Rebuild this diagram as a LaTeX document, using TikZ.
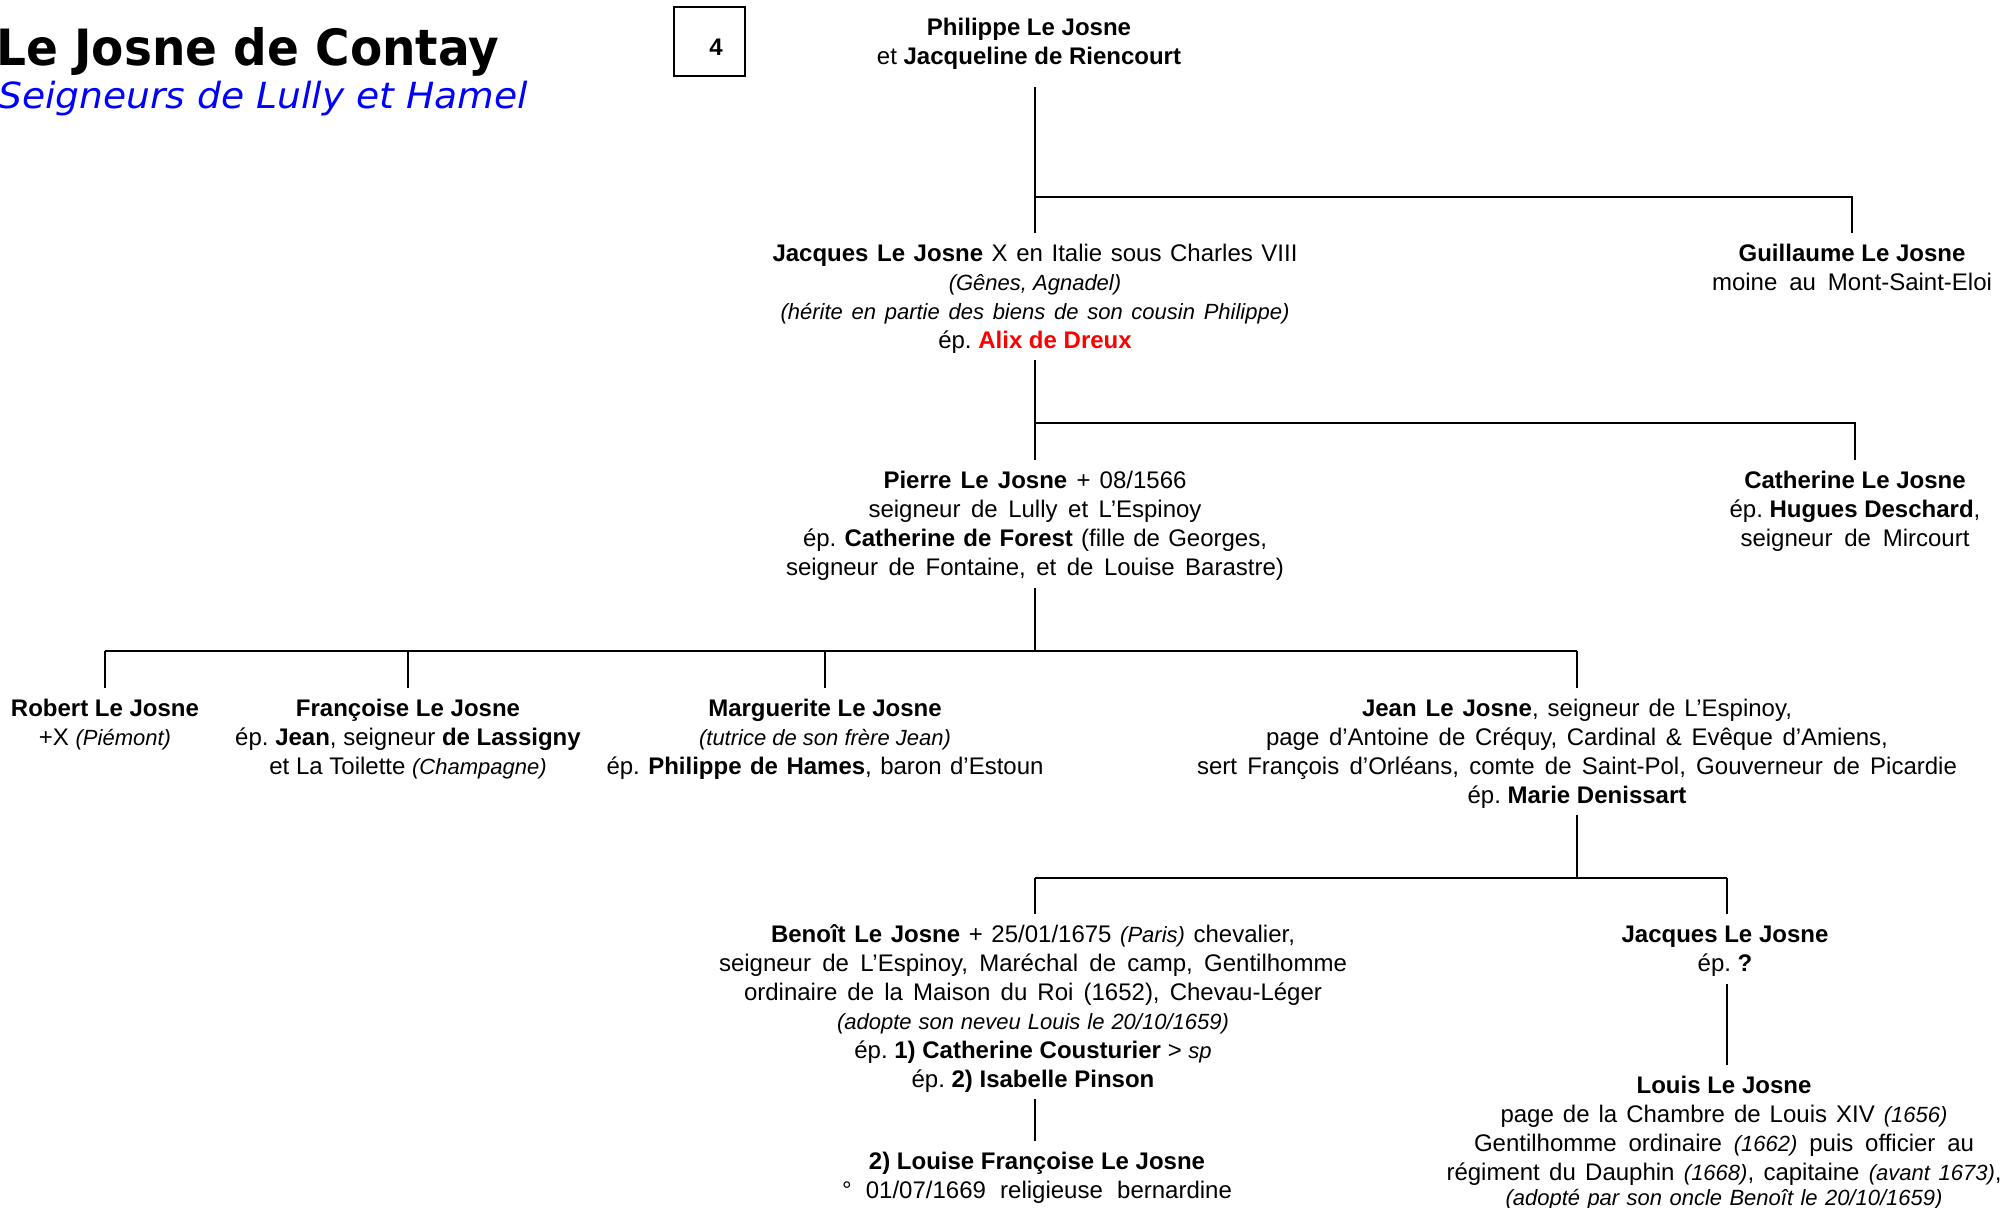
\documentclass[tikz,border=0pt]{standalone}
\usepackage{fontspec}
\setmainfont{Liberation Sans}
\newfontfamily\titlefont{DejaVu Sans}
\definecolor{pureblue}{RGB}{0,0,255}
\definecolor{purered}{RGB}{255,0,0}
\newcommand\smallit[1]{{\fontsize{22bp}{29bp}\selectfont\itshape #1}}
\newcommand\wline[2]{\makebox[#1bp][s]{#2}}
\frenchspacing
\begin{document}
\begin{tikzpicture}[x=1bp,y=-1bp,
  person/.style={align=center, inner sep=0pt, anchor=north, font=\fontsize{24bp}{29bp}\selectfont\frenchspacing},
  link/.style={line width=2.8bp, shorten <=4bp, shorten >=8bp},
  bar/.style={line width=2.8bp}]
\fill[white] (0,0) rectangle (2003,1207);
\useasboundingbox (0,0) rectangle (2003,1207);

% title
\node[anchor=base west, inner sep=0pt, font=\titlefont\bfseries\fontsize{50bp}{60bp}\selectfont] (title) at (-4,65) {\scalebox{0.94}[1]{Le Josne de Contay}};
\node[anchor=base west, inner sep=0pt, text=pureblue, font=\titlefont\itshape\fontsize{36bp}{44bp}\selectfont] (subtitle) at (-2,108) {\scalebox{1.045}[1]{Seigneurs de Lully et Hamel}};
\node[draw, line width=1.3bp, minimum width=71bp, minimum height=69bp, inner sep=0pt] (box) at (709.5,41.5) {};
\node[inner sep=0pt, font=\fontsize{24bp}{29bp}\selectfont\bfseries] (num) at (716,47) {4};

% persons
\node[person] (philippe) at (1029,15) {\strut\textbf{Philippe Le Josne}\\et \textbf{Jacqueline de Riencourt}\strut};
\node[person] (jacques) at (1035,241) {\strut\wline{525}{\textbf{Jacques Le Josne} X en Italie sous Charles VIII}\\\smallit{(Gênes, Agnadel)}\\\wline{509}{\smallit{(hérite en partie des biens de son cousin Philippe)}}\\ép. \textcolor{purered}{\textbf{Alix de Dreux}}\strut};
\node[person] (guillaume) at (1852,241) {\strut\textbf{Guillaume Le Josne}\\\wline{280}{moine au Mont-Saint-Eloi}\strut};
\node[person] (pierre) at (1035,468) {\strut\wline{303}{\textbf{Pierre Le Josne} + 08/1566}\\\wline{333}{seigneur de Lully et L’Espinoy}\\\wline{464}{ép. \textbf{Catherine de Forest} (fille de Georges,}\\\wline{498}{seigneur de Fontaine, et de Louise Barastre)}\strut};
\node[person] (catherine) at (1855,468) {\strut\textbf{Catherine Le Josne}\\ép. \textbf{Hugues Deschard},\\\wline{229}{seigneur de Mircourt}\strut};
\node[person] (robert) at (105,696) {\strut\textbf{Robert Le Josne}\\+X \smallit{(Piémont)}\strut};
\node[person] (francoise) at (408,696) {\strut\textbf{Françoise Le Josne}\\ép. \textbf{Jean}, seigneur \textbf{de Lassigny}\\et La Toilette \smallit{(Champagne)}\strut};
\node[person] (marguerite) at (825,696) {\strut\textbf{Marguerite Le Josne}\\\smallit{(tutrice de son frère Jean)}\\\wline{437}{ép. \textbf{Philippe de Hames}, baron d’Estoun}\strut};
\node[person] (jean) at (1577,696) {\strut\wline{430}{\textbf{Jean Le Josne}, seigneur de L’Espinoy,}\\\wline{622}{page d’Antoine de Créquy, Cardinal \& Evêque d’Amiens,}\\\wline{760}{sert François d’Orléans, comte de Saint-Pol, Gouverneur de Picardie}\\ép. \textbf{Marie Denissart}\strut};
\node[person] (benoit) at (1033,922) {\strut\wline{524}{\textbf{Benoît Le Josne} + 25/01/1675 \smallit{(Paris)} chevalier,}\\\wline{628}{seigneur de L’Espinoy, Maréchal de camp, Gentilhomme}\\\wline{578}{ordinaire de la Maison du Roi (1652), Chevau-Léger}\\\wline{392}{\smallit{(adopte son neveu Louis le 20/10/1659)}}\\ép. \textbf{1) Catherine Cousturier} > \smallit{sp}\\ép. \textbf{2) Isabelle Pinson}\strut};
\node[person] (jacques2) at (1725,922) {\strut\textbf{Jacques Le Josne}\\ép. \textbf{?}\strut};
\node[person] (louise) at (1037,1149) {\strut\textbf{2) Louise Françoise Le Josne}\\\wline{390}{° 01/07/1669 religieuse bernardine}\strut};
\node[person] (louis) at (1724,1073) {\strut\textbf{Louis Le Josne}\\\wline{447}{page de la Chambre de Louis XIV \smallit{(1656)}}\\\wline{500}{Gentilhomme ordinaire \smallit{(1662)} puis officier au}\\\wline{555}{régiment du Dauphin \smallit{(1668)}, capitaine \smallit{(avant 1673)},}\\[-4bp]\wline{437}{\smallit{(adopté par son oncle Benoît le 20/10/1659)}}\strut};

% bar levels and trunk lines
\coordinate (y1) at (0,197);
\coordinate (y2) at (0,423);
\coordinate (y3) at (0,651);
\coordinate (y4) at (0,878);
\coordinate (xb) at (1035,0);
\coordinate (xj) at (1727,0);

% connectors
\draw[link, shorten <=14bp] (philippe.south -| jacques.north) -- (jacques.north);
\draw[link, shorten <=0bp] (jacques.north |- y1) -| (guillaume.north);

\draw[link, shorten <=3bp] (jacques.south) -- (pierre.north);
\draw[link, shorten <=0bp] (pierre.north |- y2) -| (catherine.north);

\draw[bar, shorten <=4bp] (pierre.south) -- (pierre.south |- y3);
\draw[bar] (robert.north |- y3) -- (jean.north |- y3);
\foreach \c in {robert,francoise,marguerite,jean}
  \draw[link, shorten <=0bp] (\c.north |- y3) -- (\c.north);

\draw[bar, shorten <=3bp] (jean.south) -- (jean.south |- y4);
\draw[bar] (xb |- y4) -- (xj |- y4);
\draw[link, shorten <=0bp] (xb |- y4) -- (xb |- benoit.north);
\draw[link, shorten <=0bp] (xj |- y4) -- (xj |- jacques2.north);

\draw[link, shorten <=3bp] (xb |- benoit.south) -- (xb |- louise.north);
\draw[link] (xj |- jacques2.south) -- (xj |- louis.north);
\end{tikzpicture}
\end{document}
